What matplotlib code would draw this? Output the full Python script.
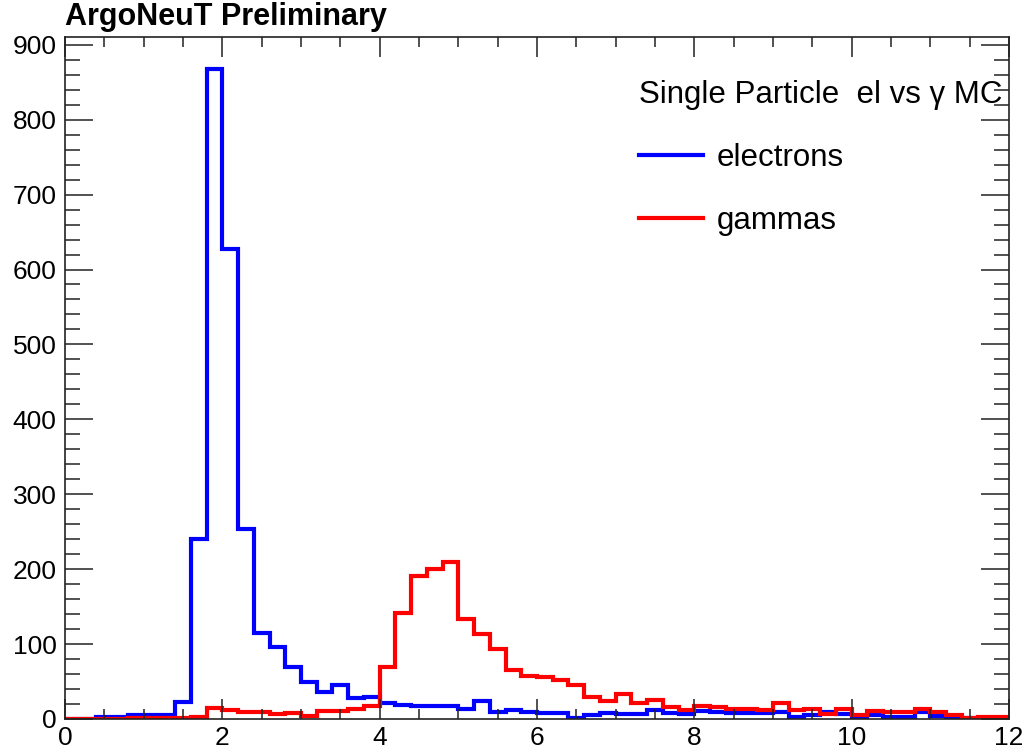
import numpy as np
import matplotlib
matplotlib.use("Agg")
import matplotlib.pyplot as plt
from matplotlib.ticker import MultipleLocator

# ---- data (bin width 0.2, x from 0 to 12) ----
bin_edges = np.round(np.arange(0, 12.0001, 0.2), 2)

electrons = [0, 0, 3, 3, 6, 6, 6, 23, 240, 867,
             628, 253, 115, 96, 70, 50, 36, 45, 28, 30,
             22, 19, 18, 18, 18, 13, 24, 10, 12, 10,
             8, 8, 2, 5, 8, 7, 7, 12, 8, 7,
             11, 10, 8, 8, 8, 9, 3, 5, 9, 7,
             3, 5, 3, 3, 9, 4, 2, 1, 0, 0]

gammas = [0, 0, 0, 0, 2, 2, 2, 2, 3, 15,
          12, 10, 9, 7, 8, 4, 11, 11, 14, 18,
          70, 141, 191, 200, 210, 134, 114, 93, 65, 58,
          56, 52, 46, 30, 24, 33, 22, 26, 16, 12,
          18, 16, 14, 14, 12, 21, 12, 14, 7, 13,
          5, 11, 9, 9, 14, 9, 6, 1, 3, 3]

series_labels = ["electrons", "gammas"]
legend_header = "Single Particle  el vs \u03b3 MC"
title_text = "ArgoNeuT Preliminary"
x_ticks = [0, 2, 4, 6, 8, 10, 12]
y_ticks = [0, 100, 200, 300, 400, 500, 600, 700, 800, 900]

plt.rcParams['font.family'] = ['Liberation Sans', 'DejaVu Sans']

fig = plt.figure(figsize=(10.25, 7.52), dpi=100)
ax = fig.add_axes([65 / 1025, 33 / 752, (1009 - 65) / 1025, (719 - 37) / 752])

h1 = ax.stairs(electrons, bin_edges, color='#0000ff', linewidth=3.0,
               baseline=0, label=series_labels[0])
h2 = ax.stairs(gammas, bin_edges, color='#ff0000', linewidth=3.0,
               baseline=0, label=series_labels[1])

ax.set_xlim(0, 12)
ax.set_ylim(0, max(electrons) * 1.05)

ax.set_xticks(x_ticks)
ax.set_yticks(y_ticks)
ax.xaxis.set_minor_locator(MultipleLocator(0.5))
ax.yaxis.set_minor_locator(MultipleLocator(20))

ax.tick_params(axis='both', which='both', direction='in', top=True, right=True,
               color='#222222', width=1.1)
ax.tick_params(axis='x', which='major', length=14.4, labelsize=19, pad=5)
ax.tick_params(axis='x', which='minor', length=7.2)
ax.tick_params(axis='y', which='major', length=20.5, labelsize=19, pad=6)
ax.tick_params(axis='y', which='minor', length=10.5)

for sp in ax.spines.values():
    sp.set_color('#222222')
    sp.set_linewidth(1.2)

leg = ax.legend(handles=[h1, h2], labels=series_labels, title=legend_header,
                loc='upper left', bbox_to_anchor=(0.608, 0.937),
                frameon=False, fontsize=22.5, title_fontsize=22.5,
                handlelength=2.05, handletextpad=0.45, labelspacing=1.05,
                borderaxespad=0, borderpad=0)
leg._legend_box.align = "left"
for lh in leg.legend_handles:
    lh.set_linewidth(3.0)

fig.text(65 / 1025, 1 - 25 / 752, title_text, fontsize=22, fontweight='bold',
         ha='left', va='baseline')

fig.savefig("out.png", dpi=100)
